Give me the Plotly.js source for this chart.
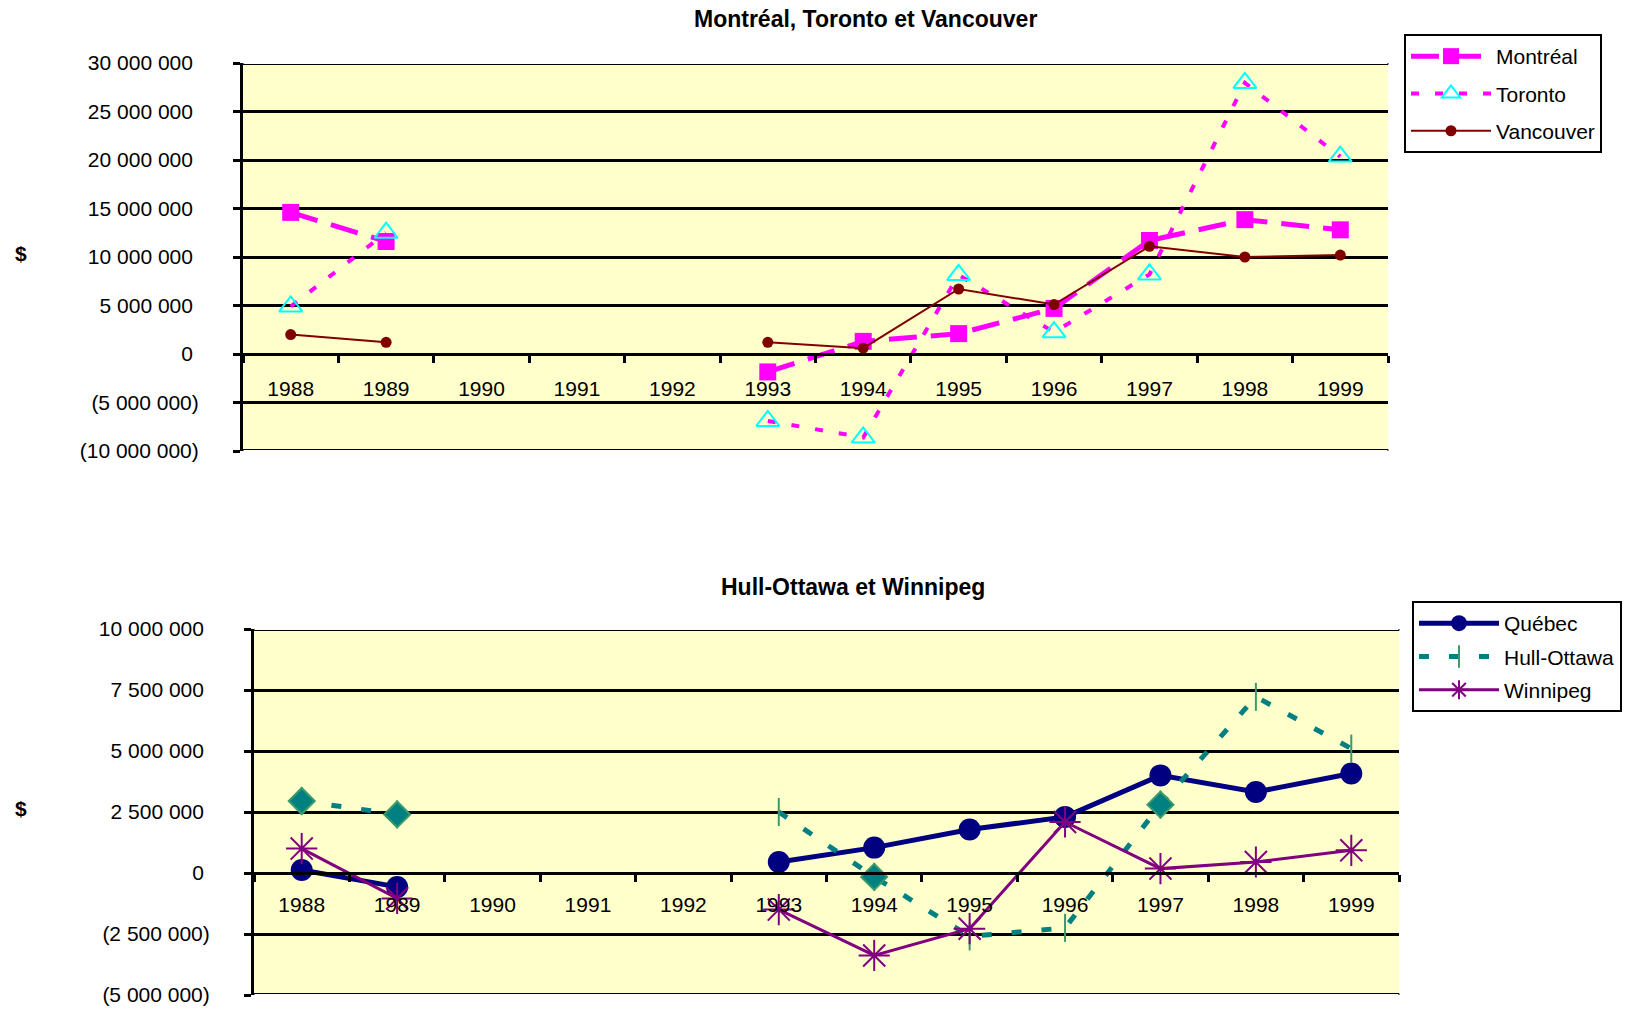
<!DOCTYPE html>
<html>
<head>
<meta charset="utf-8">
<script src="https://cdn.plot.ly/plotly-3.0.1.min.js"></script>
<style>html,body{margin:0;padding:0;background:#fff;}#chart{width:1645px;height:1012px;}</style>
</head>
<body>
<div id="chart"></div>
<script>
// ---------- data ----------
const years = ['1988','1989','1990','1991','1992','1993','1994','1995','1996','1997','1998','1999'];

const montreal  = [14.6e6, 11.6e6, null, null, null, -1.85e6, 1.3e6, 2.1e6, 4.7e6, 11.7e6, 13.85e6, 12.8e6];
const toronto   = [4.9e6, 12.5e6, null, null, null, -6.9e6, -8.6e6, 8.15e6, 2.25e6, 8.2e6, 27.95e6, 20.35e6];
const vancouver = [2.0e6, 1.2e6, null, null, null, 1.2e6, 0.6e6, 6.7e6, 5.1e6, 11.1e6, 10.0e6, 10.2e6];

const quebec    = [0.12e6, -0.57e6, null, null, null, 0.45e6, 1.04e6, 1.78e6, 2.3e6, 4.0e6, 3.32e6, 4.08e6];
const hull      = [2.95e6, 2.4e6, null, null, null, 2.5e6, -0.16e6, -2.6e6, -2.25e6, 2.8e6, 7.22e6, 5.1e6];
const winnipeg  = [1.0e6, -1.04e6, null, null, null, -1.5e6, -3.38e6, -2.28e6, 2.09e6, 0.18e6, 0.45e6, 0.93e6];

// years where the Hull-Ottawa marker is drawn as a diamond
const hullDiamondYears = ['1988','1989','1994','1997'];

const topTickVals = [-10e6, -5e6, 0, 5e6, 10e6, 15e6, 20e6, 25e6, 30e6];
const topTickText = ['(10 000 000)', '(5 000 000)', '0', '5 000 000', '10 000 000', '15 000 000', '20 000 000', '25 000 000', '30 000 000'];
const botTickVals = [-5e6, -2.5e6, 0, 2.5e6, 5e6, 7.5e6, 10e6];
const botTickText = ['(5 000 000)', '(2 500 000)', '0', '2 500 000', '5 000 000', '7 500 000', '10 000 000'];

const topTitle = 'Montréal, Toronto et Vancouver';
const botTitle = 'Hull-Ottawa et Winnipeg';
const unitLabel = '$';

// ---------- layout helpers ----------
const W = 1645, H = 1012;
const FONT = 'Arial, "Liberation Sans", sans-serif';
const pad = t => t.startsWith('(') ? t : t + '\u00A0';

const topDomX = [243/W, 1388/W];
const topDomY = [1 - 451/H, 1 - 63/H];
const botDomX = [254/W, 1399/W];
const botDomY = [1 - 995/H, 1 - 629/H];
const topRange = [-10e6, 30e6];
const botRange = [-5e6, 10e6];
const catRange = [-0.5, years.length - 0.5];
const zeroPos = (dom, r) => dom[0] + (0 - r[0]) / (r[1] - r[0]) * (dom[1] - dom[0]);

const traces = [
  {x: years, y: montreal, name: 'Montréal', type: 'scatter', mode: 'lines+markers',
   xaxis: 'x', yaxis: 'y', legend: 'legend', legendgroup: 'm',
   line: {color: '#FF00FF', width: 5, dash: '28px,14px'},
   marker: {symbol: 'square', size: 17, color: '#FF00FF'}},
  {x: years, y: toronto, name: 'Toronto', type: 'scatter', mode: 'lines+markers',
   xaxis: 'x', yaxis: 'y', legend: 'legend', legendgroup: 't',
   line: {color: '#FF00FF', width: 4, dash: '8px,16px'},
   marker: {symbol: 'triangle-up-open', size: 20, color: '#00FFFF', line: {color: '#00FFFF', width: 2}}},
  {x: years, y: vancouver, name: 'Vancouver', type: 'scatter', mode: 'lines+markers',
   xaxis: 'x', yaxis: 'y', legend: 'legend', legendgroup: 'v',
   line: {color: '#800000', width: 2},
   marker: {symbol: 'circle', size: 11, color: '#800000'}},

  {x: years, y: quebec, name: 'Québec', type: 'scatter', mode: 'lines+markers',
   xaxis: 'x2', yaxis: 'y2', legend: 'legend2', legendgroup: 'q',
   line: {color: '#000080', width: 5},
   marker: {symbol: 'circle', size: 22, color: '#000080'}},
  {x: years, y: hull, name: 'Hull-Ottawa', type: 'scatter', mode: 'lines+markers',
   xaxis: 'x2', yaxis: 'y2', legend: 'legend2', legendgroup: 'h',
   line: {color: '#008080', width: 5, dash: '10px,20px'},
   marker: {symbol: 'line-ns-open', size: 20, color: '#3A9A6A', line: {color: '#3A9A6A', width: 2}}},
  {x: years, y: hull.map((v, i) => hullDiamondYears.includes(years[i]) ? v : null),
   name: 'Hull-Ottawa', type: 'scatter', mode: 'markers', showlegend: false, legend: 'legend2', legendgroup: 'h',
   xaxis: 'x2', yaxis: 'y2',
   marker: {symbol: 'diamond', size: 20, color: '#008080', line: {color: '#3A9A6A', width: 2}}},
  {x: years, y: winnipeg, name: 'Winnipeg', type: 'scatter', mode: 'lines+markers',
   xaxis: 'x2', yaxis: 'y2', legend: 'legend2', legendgroup: 'w',
   line: {color: '#800080', width: 3},
   marker: {symbol: 'asterisk-open', size: 26, color: '#800080', line: {color: '#800080', width: 2}}}
];

const xBase = {
  type: 'category', anchor: 'free', range: catRange, tickson: 'boundaries', ticks: 'outside', ticklen: 7, tickwidth: 3,
  tickcolor: '#000', showline: true, linewidth: 3, linecolor: '#000', showgrid: false, zeroline: false,
  tickfont: {family: FONT, size: 21, color: '#000'}, ticklabelstandoff: 15, fixedrange: true
};
const yBase = {
  ticks: 'outside', ticklen: 7, tickwidth: 3, tickcolor: '#000', showline: true, linewidth: 3,
  linecolor: '#000', showgrid: true, gridcolor: '#000', gridwidth: 3, zeroline: false,
  tickfont: {family: FONT, size: 21, color: '#000'}, ticklabelstandoff: 30, fixedrange: true
};

const edge = (yref, xref, val) => ({
  type: 'rect', xref: xref, x0: 0, x1: 1, yref: yref, ysizemode: 'pixel', yanchor: val,
  y0: -1.5, y1: 1.5, line: {color: '#000', width: 1}, fillcolor: '#fff', layer: 'above'
});

const legendBase = {xanchor: 'left', yanchor: 'top', bgcolor: '#fff', bordercolor: '#000', borderwidth: 2,
  font: {family: FONT, size: 21, color: '#000'}, itemwidth: 80, traceorder: 'grouped'};

const layout = {
  width: W, height: H, margin: {l: 0, r: 0, t: 0, b: 0},
  paper_bgcolor: '#fff', plot_bgcolor: '#FFFFCC',
  font: {family: FONT, size: 21, color: '#000'},
  showlegend: true,
  xaxis: Object.assign({}, xBase, {domain: topDomX, position: zeroPos(topDomY, topRange)}),
  yaxis: Object.assign({}, yBase, {domain: topDomY, range: topRange, anchor: 'x',
    tickvals: topTickVals, ticktext: topTickText.map(pad)}),
  xaxis2: Object.assign({}, xBase, {domain: botDomX, position: zeroPos(botDomY, botRange), ticklabelstandoff: 12}),
  yaxis2: Object.assign({}, yBase, {domain: botDomY, range: botRange, anchor: 'x2',
    tickvals: botTickVals, ticktext: botTickText.map(pad)}),
  legend: Object.assign({}, legendBase, {x: 1404/W, y: 1 - 34/H, tracegroupgap: 7}),
  legend2: Object.assign({}, legendBase, {x: 1412/W, y: 1 - 601/H, tracegroupgap: 3}),
  shapes: [
    edge('y', 'x domain', topRange[1]), edge('y', 'x domain', topRange[0]),
    edge('y2', 'x2 domain', botRange[1]), edge('y2', 'x2 domain', botRange[0])
  ],
  annotations: [
    {text: '<b>' + topTitle + '</b>', xref: 'paper', yref: 'paper', x: 865/W, y: 1 - 19/H,
     xanchor: 'center', yanchor: 'middle', showarrow: false, font: {family: FONT, size: 23, color: '#000'}},
    {text: '<b>' + botTitle + '</b>', xref: 'paper', yref: 'paper', x: 853/W, y: 1 - 587/H,
     xanchor: 'center', yanchor: 'middle', showarrow: false, font: {family: FONT, size: 23, color: '#000'}},
    {text: '<b>' + unitLabel + '</b>', xref: 'paper', yref: 'paper', x: 21/W, y: 1 - 253/H,
     xanchor: 'center', yanchor: 'middle', showarrow: false, font: {family: FONT, size: 21, color: '#000'}},
    {text: '<b>' + unitLabel + '</b>', xref: 'paper', yref: 'paper', x: 21/W, y: 1 - 808/H,
     xanchor: 'center', yanchor: 'middle', showarrow: false, font: {family: FONT, size: 21, color: '#000'}}
  ]
};

Plotly.newPlot('chart', traces, layout, {displayModeBar: false, staticPlot: true});
</script>
</body>
</html>
